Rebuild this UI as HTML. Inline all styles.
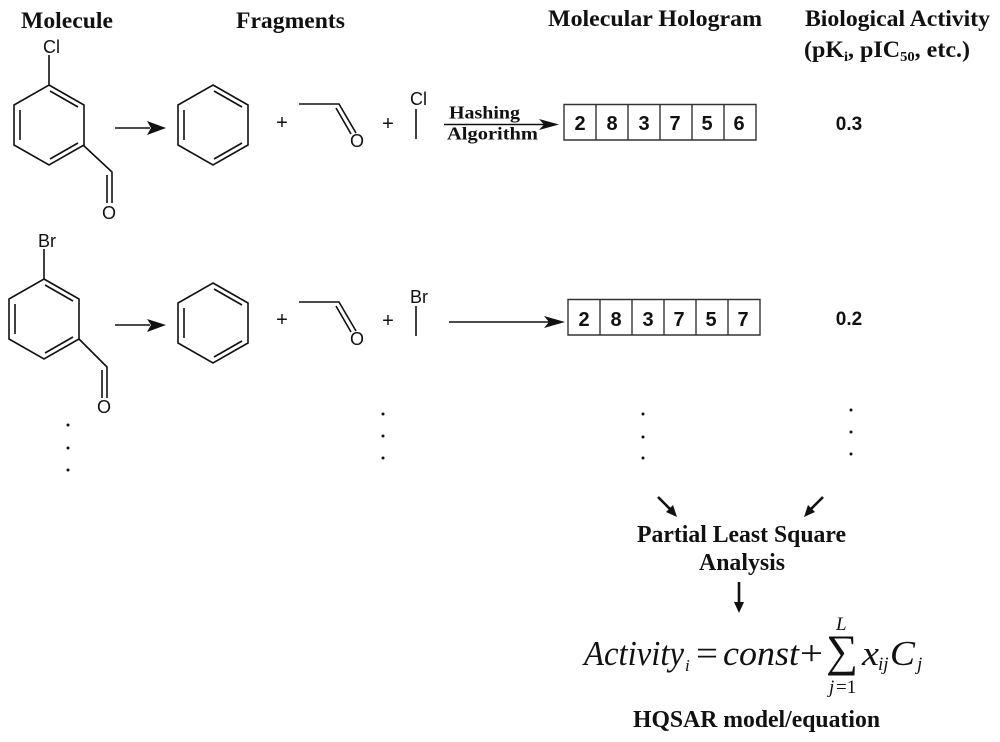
<!DOCTYPE html>
<html><head><meta charset="utf-8"><style>
html,body{margin:0;padding:0;background:#fff;width:1000px;height:742px;overflow:hidden}
svg{display:block}
.b{font-family:"Liberation Serif",serif;font-weight:bold;font-size:23px;fill:#111}
.s{font-family:"Liberation Sans",sans-serif;font-size:18px;fill:#111}
.d{font-family:"Liberation Sans",sans-serif;font-weight:bold;font-size:20px;fill:#111;text-anchor:middle}
.p{font-family:"Liberation Sans",sans-serif;font-size:20px;fill:#111;text-anchor:middle}
.e{font-family:"Liberation Serif",serif;font-style:italic;font-size:35px;fill:#111}
.n{font-family:"Liberation Serif",serif;font-size:35px;fill:#111}
.l{stroke:#111;stroke-width:1.6;fill:none}
.t{stroke:#333;stroke-width:1.4;fill:none}
</style></head><body>
<svg width="1000" height="742" viewBox="0 0 1000 742" xmlns="http://www.w3.org/2000/svg">
<defs>
<g id="ring" class="l">
<path d="M0 0L35 20V60L0 80L-35 60V20Z"/>
<path d="M1 6L29 22M-29 25V55M1 74L29 58"/>
</g>
<g id="frag" class="l">
<path d="M299 0H339L356 29"/>
<path d="M336 4L351 30"/>
</g>
</defs>

<text class="b" x="21" y="28" textLength="92" lengthAdjust="spacingAndGlyphs">Molecule</text>
<text class="b" x="236" y="28" textLength="109" lengthAdjust="spacingAndGlyphs">Fragments</text>
<text class="b" x="548" y="26" textLength="214" lengthAdjust="spacingAndGlyphs">Molecular Hologram</text>
<text class="b" x="805" y="26" textLength="185" lengthAdjust="spacingAndGlyphs">Biological Activity</text>
<text class="b" x="804" y="57" textLength="166" lengthAdjust="spacingAndGlyphs">(pK<tspan font-size="14" dy="4">i</tspan><tspan dy="-4">, pIC</tspan><tspan font-size="14" dy="4">50</tspan><tspan dy="-4">, etc.)</tspan></text>

<!-- Molecule 1 -->
<use href="#ring" x="49" y="85"/>
<path class="l" d="M49 85V55M83 145L112 172V203M107 175V203"/>
<text class="s" x="43" y="53">Cl</text>
<text class="s" x="102" y="219">O</text>
<path class="l" d="M115 128H150"/><path d="M166 128L147 121L151 128L147 135Z" fill="#111"/>
<use href="#ring" x="213" y="85"/>
<text class="p" x="282" y="129">+</text>
<use href="#frag" x="0" y="104"/>
<text class="s" x="350" y="147">O</text>
<text class="p" x="388" y="130">+</text>
<text class="s" x="410" y="105">Cl</text>
<path class="l" d="M416 109V139"/>
<text class="b" x="449" y="118.500" style="font-size:18px" textLength="71" lengthAdjust="spacingAndGlyphs">Hashing</text>
<text class="b" x="447" y="139.500" style="font-size:18px" textLength="91" lengthAdjust="spacingAndGlyphs">Algorithm</text>
<path class="l" d="M444 124.500H545"/><path d="M559 124.500L539 119L544 124.500L539 130Z" fill="#111"/>
<path class="t" d="M564 104.500H756V140H564ZM596 104V140M628 104V140M660 104V140M692 104V140M724 104V140"/>
<g><text class="d" x="580" y="130">2</text><text class="d" x="612" y="130">8</text><text class="d" x="644" y="130">3</text><text class="d" x="675" y="130">7</text><text class="d" x="707" y="130">5</text><text class="d" x="739" y="130">6</text></g>
<text class="d" x="849" y="130" style="font-size:19px">0.3</text>

<!-- Molecule 2 -->
<use href="#ring" x="44" y="279"/>
<path class="l" d="M44 279V249M79 339L107 367V398M102 370V398"/>
<text class="s" x="38" y="247">Br</text>
<text class="s" x="97" y="413">O</text>
<path class="l" d="M115 325H150"/><path d="M166 325L147 319L151 325L147 332Z" fill="#111"/>
<use href="#ring" x="213" y="283"/>
<text class="p" x="282" y="326">+</text>
<use href="#frag" x="0" y="302"/>
<text class="s" x="350" y="345">O</text>
<text class="p" x="388" y="327">+</text>
<text class="s" x="410" y="303">Br</text>
<path class="l" d="M416 306V336"/>
<path class="l" d="M449 322H550"/><path d="M565 322L544 316L549 322L544 328Z" fill="#111"/>
<path class="t" d="M568 299.500H760V335H568ZM600 299V335M632 299V335M664 299V335M696 299V335M728 299V335"/>
<g><text class="d" x="584" y="326">2</text><text class="d" x="616" y="326">8</text><text class="d" x="648" y="326">3</text><text class="d" x="679" y="326">7</text><text class="d" x="711" y="326">5</text><text class="d" x="743" y="326">7</text></g>
<text class="d" x="849" y="325" style="font-size:19px">0.2</text>

<!-- dots -->
<g fill="#111">
<circle cx="68" cy="425" r="1.500"/><circle cx="68" cy="448" r="1.500"/><circle cx="68" cy="470" r="1.500"/>
<circle cx="383" cy="414" r="1.500"/><circle cx="383" cy="436" r="1.500"/><circle cx="383" cy="458" r="1.500"/>
<circle cx="643" cy="414" r="1.500"/><circle cx="643" cy="437" r="1.500"/><circle cx="643" cy="458" r="1.500"/>
<circle cx="851" cy="410" r="1.500"/><circle cx="851" cy="432" r="1.500"/><circle cx="851" cy="454" r="1.500"/>
</g>

<!-- PLS arrows -->
<path d="M658 497L672 511" stroke="#111" stroke-width="2.600"/><path d="M677 517L673 505L666 512Z" fill="#111"/>
<path d="M823 497L809 511" stroke="#111" stroke-width="2.600"/><path d="M804 517L808 505L815 512Z" fill="#111"/>
<path d="M739 582V604" stroke="#111" stroke-width="2.600"/><path d="M739 613L734 602H744Z" fill="#111"/>

<text class="b" x="637" y="542" style="font-size:24px" textLength="209" lengthAdjust="spacingAndGlyphs">Partial Least Square</text>
<text class="b" x="699" y="570" style="font-size:24px" textLength="86" lengthAdjust="spacingAndGlyphs">Analysis</text>

<!-- equation -->
<text class="e" x="584" y="665" textLength="100" lengthAdjust="spacingAndGlyphs">Activity</text>
<text class="e" x="685" y="671" style="font-size:17px">i</text>
<text class="n" x="696" y="665" textLength="22" lengthAdjust="spacingAndGlyphs">=</text>
<text class="e" x="723" y="665" textLength="76" lengthAdjust="spacingAndGlyphs">const</text>
<text class="n" x="800" y="665" textLength="23" lengthAdjust="spacingAndGlyphs">+</text>
<text class="n" x="826" y="666" style="font-size:45px" textLength="32" lengthAdjust="spacingAndGlyphs">∑</text>
<text class="e" x="836" y="630" style="font-size:19px">L</text>
<text class="e" x="829" y="693" style="font-size:19px">j</text>
<text class="n" x="836" y="693" style="font-size:19px">=1</text>
<text class="e" x="862" y="665" textLength="17" lengthAdjust="spacingAndGlyphs">x</text>
<text class="e" x="878" y="670" style="font-size:19px">ij</text>
<text class="e" x="890" y="665" textLength="25" lengthAdjust="spacingAndGlyphs">C</text>
<text class="e" x="917" y="670" style="font-size:19px">j</text>

<text class="b" x="633" y="727" style="font-size:24px" textLength="247" lengthAdjust="spacingAndGlyphs">HQSAR model/equation</text>
</svg>
</body></html>
